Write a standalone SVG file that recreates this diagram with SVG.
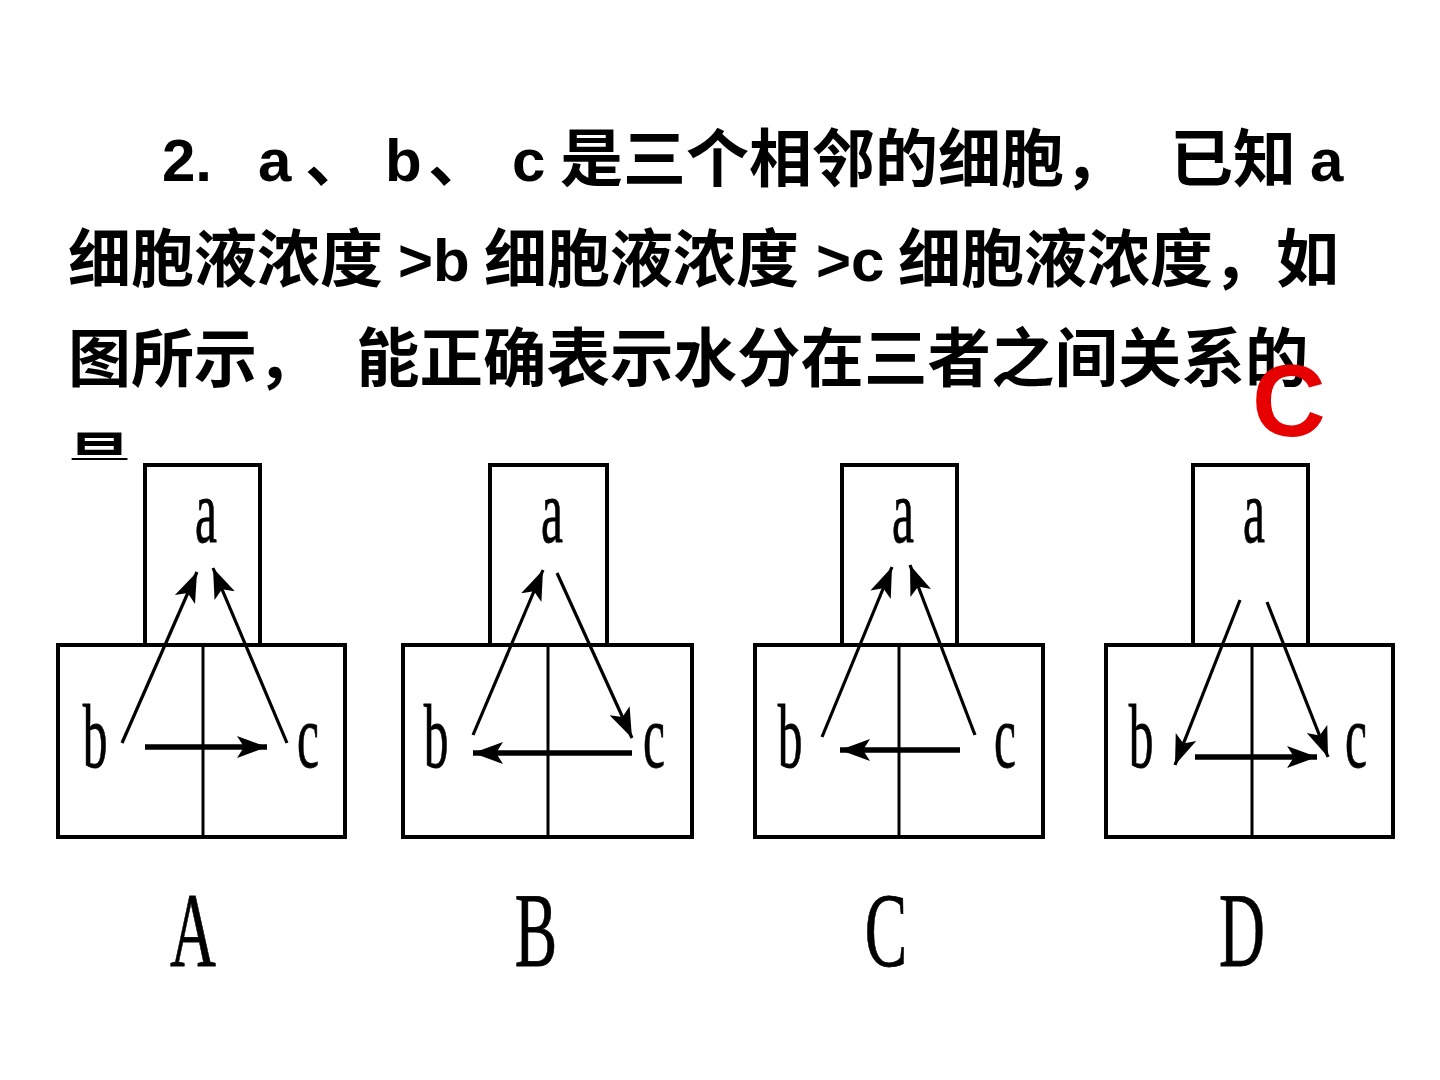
<svg xmlns="http://www.w3.org/2000/svg" width="1440" height="1080" viewBox="0 0 1440 1080">
<style>
.cjk{font-family:"Noto Sans CJK SC","Liberation Sans",sans-serif;font-weight:bold;font-size:63px;fill:#000}
.lat{font-family:"Liberation Sans","Noto Sans CJK SC",sans-serif;font-weight:bold;font-size:60px;fill:#000}
.box{fill:none;stroke:#000;stroke-width:4}
.div{stroke:#000;stroke-width:3}
.lbl{font-family:"Liberation Serif",serif;font-size:90px;text-anchor:middle;fill:#000;stroke:#000;stroke-width:0.8}
.opt{font-family:"Liberation Serif",serif;font-size:106px;text-anchor:middle;fill:#000;stroke:#000;stroke-width:0.8}
.arr{stroke:#000;stroke-width:3.2;fill:none;marker-end:url(#ah)}
.harr{stroke:#000;stroke-width:5.5;fill:none;marker-end:url(#ah)}
</style>
<defs>
<marker id="ah" markerUnits="userSpaceOnUse" markerWidth="32" markerHeight="24" refX="30" refY="12" orient="auto" viewBox="0 0 32 24">
<path d="M0,1 L30,12 L0,23 L7,12 z" fill="#000"/>
</marker>
<clipPath id="cut"><rect x="0" y="0" width="1440" height="460"/></clipPath>
</defs>
<rect width="1440" height="1080" fill="#fff"/>
<g id="question">
<text class="lat" x="162" y="181">2.</text>
<text class="lat" x="258" y="181">a</text>
<text class="cjk" x="305" y="181">、</text>
<text class="lat" x="385" y="181">b</text>
<text class="cjk" x="428" y="181">、</text>
<text class="lat" x="512" y="181">c</text>
<text class="cjk" x="560" y="181">是三个相邻的细胞，</text>
<text class="cjk" x="1170" y="181">已知</text>
<text class="lat" x="1310" y="181">a</text>
<text class="cjk" x="68" y="281">细胞液浓度</text>
<text class="lat" x="398" y="281">&gt;b</text>
<text class="cjk" x="484" y="281">细胞液浓度</text>
<text class="lat" x="816" y="281">&gt;c</text>
<text class="cjk" x="898" y="281">细胞液浓度，如</text>
<text class="cjk" x="68" y="381">图所示，</text>
<text class="cjk" x="356" y="381" style="font-size:63.5px">能正确表示水分在三者之间关系的</text>
<text class="cjk" x="68" y="484" clip-path="url(#cut)">是</text>
</g>
<text id="answer" x="1252" y="436" style="font-family:'Liberation Sans',sans-serif;font-weight:bold;font-size:102px;fill:#e60000">C</text>
<g id="diagA">
<rect class="box" x="145" y="465" width="115" height="180"/>
<rect class="box" x="58" y="645" width="287" height="192"/>
<line class="div" x1="203" y1="645" x2="203" y2="837"/>
<text class="lbl" transform="translate(206,542) scale(0.55,1)">a</text>
<text class="lbl" transform="translate(95,767) scale(0.55,1)">b</text>
<text class="lbl" transform="translate(308,767) scale(0.55,1)">c</text>
<text class="opt" transform="translate(193,966) scale(0.6,1)">A</text>
</g>
<g id="diagB">
<rect class="box" x="490" y="465" width="117" height="180"/>
<rect class="box" x="403" y="645" width="289" height="192"/>
<line class="div" x1="548" y1="645" x2="548" y2="837"/>
<text class="lbl" transform="translate(552,542) scale(0.55,1)">a</text>
<text class="lbl" transform="translate(436,767) scale(0.55,1)">b</text>
<text class="lbl" transform="translate(654,767) scale(0.55,1)">c</text>
<text class="opt" transform="translate(536,966) scale(0.6,1)">B</text>
</g>
<g id="diagC">
<rect class="box" x="842" y="465" width="115" height="180"/>
<rect class="box" x="755" y="645" width="288" height="192"/>
<line class="div" x1="899" y1="645" x2="899" y2="837"/>
<text class="lbl" transform="translate(903,542) scale(0.55,1)">a</text>
<text class="lbl" transform="translate(790,767) scale(0.55,1)">b</text>
<text class="lbl" transform="translate(1005,767) scale(0.55,1)">c</text>
<text class="opt" transform="translate(886,966) scale(0.6,1)">C</text>
</g>
<g id="diagD">
<rect class="box" x="1193" y="465" width="115" height="180"/>
<rect class="box" x="1106" y="645" width="287" height="192"/>
<line class="div" x1="1252" y1="645" x2="1252" y2="837"/>
<text class="lbl" transform="translate(1254,542) scale(0.55,1)">a</text>
<text class="lbl" transform="translate(1141,767) scale(0.55,1)">b</text>
<text class="lbl" transform="translate(1356,767) scale(0.55,1)">c</text>
<text class="opt" transform="translate(1242,966) scale(0.6,1)">D</text>
</g>
<g id="connectors">
<line class="arr" x1="122" y1="743" x2="197" y2="572"/>
<line class="arr" x1="287" y1="743" x2="213" y2="568"/>
<line class="harr" x1="145" y1="747" x2="267" y2="747"/>
<line class="arr" x1="473" y1="735" x2="543" y2="570"/>
<line class="arr" x1="557" y1="573" x2="632" y2="738"/>
<line class="harr" x1="632" y1="753" x2="473" y2="753"/>
<line class="arr" x1="822" y1="737" x2="892" y2="567"/>
<line class="arr" x1="975" y1="735" x2="910" y2="565"/>
<line class="harr" x1="960" y1="750" x2="840" y2="750"/>
<line class="arr" x1="1240" y1="600" x2="1175" y2="765"/>
<line class="arr" x1="1267" y1="602" x2="1328" y2="757"/>
<line class="harr" x1="1195" y1="757" x2="1317" y2="757"/>
</g>
</svg>
